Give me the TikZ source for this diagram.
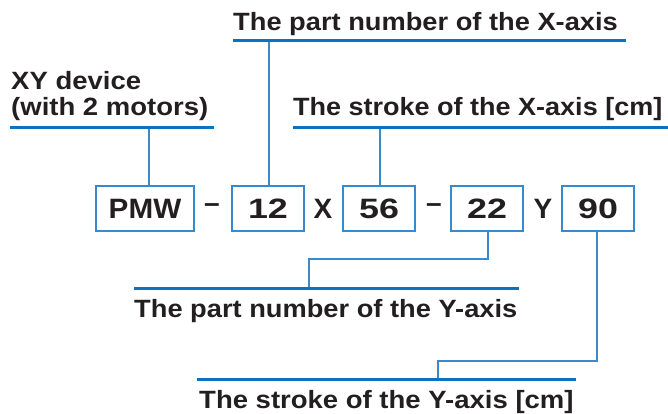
\documentclass[tikz,border=0pt]{standalone}
\usepackage{fontspec}
\setmainfont{Liberation Sans}
\usetikzlibrary{calc}
\definecolor{ublue}{HTML}{0A72C0}
\definecolor{cblue}{HTML}{3A8ACB}
\definecolor{txt}{HTML}{231F20}
\newcommand{\wide}[2]{\scalebox{#1}[1]{#2}}
\begin{document}
\begin{tikzpicture}[x=1pt,y=-1pt,
  lbl/.style={anchor=base west,inner sep=0pt,text=txt,font=\fontsize{25}{28}\selectfont\bfseries},
  uline/.style={draw=ublue,line width=3pt},
  conn/.style={draw=cblue,line width=1.3pt},
  codebox/.style={draw=cblue,line width=1.3pt,minimum height=45pt,minimum width=72pt,inner sep=0pt,text=txt,font=\fontsize{28}{30}\selectfont\bfseries},
  sep/.style={inner sep=0pt,text=txt,font=\fontsize{28}{30}\selectfont\bfseries}]
\useasboundingbox (0,0) rectangle (668,413);
% labels
\node[lbl] (l1) at (233,30) {\wide{1.09}{The part number of the X-axis}};
\node[lbl] (l2a) at (11,89) {\wide{1.1}{XY device}};
\node[lbl] (l2b) at (11,115) {\wide{1.1}{(with 2 motors)}};
\node[lbl] (l3) at (293,115) {\wide{1.08}{The stroke of the X-axis [cm]}};
\node[lbl] (l4) at (134,317) {\wide{1.09}{The part number of the Y-axis}};
\node[lbl] (l5) at (199,408) {\wide{1.1}{The stroke of the Y-axis [cm]}};
% underline end points
\coordinate (u1a) at (233,40); \coordinate (u1b) at (626,40);
\coordinate (u2a) at (10,127); \coordinate (u2b) at (214,127);
\coordinate (u3a) at (293,127); \coordinate (u3b) at (668,127);
\coordinate (u4a) at (134,288); \coordinate (u4b) at (519,288);
\coordinate (u5a) at (197,379); \coordinate (u5b) at (576,379);
% boxes
\node[codebox,minimum width=98pt] (pmw) at (145,208.5) {\wide{1.06}{PMW}};
\node[codebox] (b12) at (268,208.5) {\wide{1.28}{12}};
\node[codebox] (b56) at (379,208.5) {\wide{1.28}{56}};
\node[codebox] (b22) at (487,208.5) {\wide{1.28}{22}};
\node[codebox] (b90) at (598,208.5) {\wide{1.28}{90}};
\node[sep] (d1) at (212,208.5) {–};
\node[sep] (sx) at (323,208.5) {X};
\node[sep] (d2) at (434,208.5) {–};
\node[sep] (sy) at (543,208.5) {Y};
% connectors
\draw[conn] ([xshift=4pt]pmw.north) -- ([xshift=4pt]pmw.north |- u2a);
\draw[conn] ([xshift=1pt]b12.north) -- ([xshift=1pt]b12.north |- u1a);
\draw[conn] ([xshift=1pt]b56.north) -- ([xshift=1pt]b56.north |- u3a);
\coordinate (k22) at (309,259);
\draw[conn] ([xshift=1pt]b22.south) |- (k22) -- (k22 |- u4a);
\coordinate (k90) at (438,361);
\draw[conn] ([xshift=-1pt]b90.south) |- (k90) -- (k90 |- u5a);
% underlines
\draw[uline] (u1a) -- (u1b);
\draw[uline] (u2a) -- (u2b);
\draw[uline] (u3a) -- (u3b);
\draw[uline] (u4a) -- (u4b);
\draw[uline] (u5a) -- (u5b);
\end{tikzpicture}
\end{document}
